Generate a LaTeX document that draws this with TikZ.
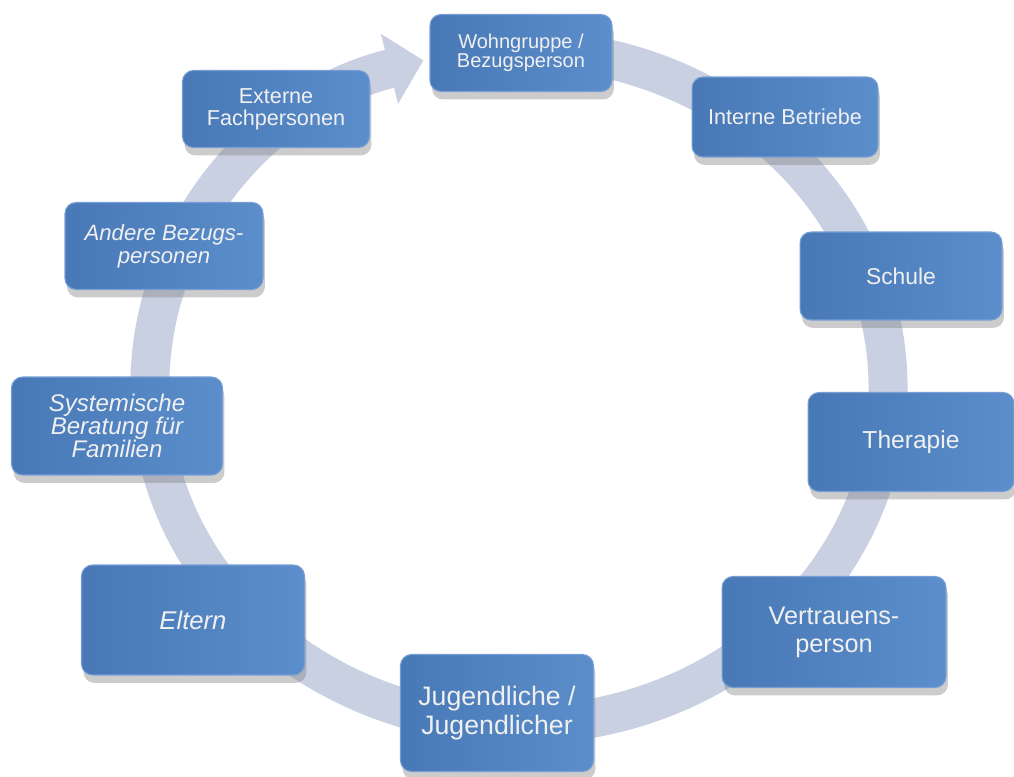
\documentclass[tikz,border=0pt]{standalone}
\usepackage{fontspec}
\setmainfont{Liberation Sans}
\usetikzlibrary{arrows.meta,shadows}
\definecolor{cyclecol}{RGB}{200,208,226}
\definecolor{boxl}{RGB}{72,120,182}
\definecolor{boxr}{RGB}{92,142,204}
\definecolor{boxedge}{RGB}{118,158,212}

\begin{document}
\begin{tikzpicture}[x=0.02cm,y=-0.02cm,
  stage/.style={rounded corners=0.22cm, left color=boxl, right color=boxr,
    draw=boxedge, line width=0.6pt, text=white!94!black, align=center, inner sep=2pt,
    drop shadow={shadow xshift=0.04cm, shadow yshift=-0.16cm, opacity=0.4}}]
\tikzstyle{every node}=[font=\small]
\useasboundingbox (0,0) rectangle (1014,777);
% the cycle arrow behind the boxes
\draw[cyclecol, line width=0.78cm, -{Triangle[width=1.4cm,length=0.7cm]}]
  (454.9,54.1) arc[start angle=-100, end angle=255, x radius=369, y radius=338];

    \node[stage, minimum width=3.64cm, minimum height=1.54cm,
      font=\fontsize{11.4}{11}\selectfont] (wohn) at (521,53) {Wohngruppe /\\Bezugsperson};
    \node[stage, minimum width=3.72cm, minimum height=1.6cm,
      font=\fontsize{12.3}{13}\selectfont] (intern) at (785,117) {Interne Betriebe};
    \node[stage, minimum width=4.04cm, minimum height=1.76cm,
      font=\fontsize{13}{14}\selectfont] (schule) at (901,276) {Schule};
    \node[stage, minimum width=4.12cm, minimum height=1.98cm,
      font=\fontsize{14}{15}\selectfont] (therapie) at (911,442) {Therapie};
    \node[stage, minimum width=4.48cm, minimum height=2.22cm,
      font=\fontsize{14.4}{16}\selectfont] (vertrauen) at (834,632) {Vertrauens-\\person};
    \node[stage, minimum width=3.86cm, minimum height=2.34cm,
      font=\fontsize{15.2}{16.5}\selectfont] (jugend) at (497,713) {Jugendliche /\\Jugendlicher};
    \node[stage, minimum width=4.46cm, minimum height=2.2cm,
      font=\fontsize{14.6}{16}\itshape] (eltern) at (193,620) {Eltern};
    \node[stage, minimum width=4.22cm, minimum height=1.96cm,
      font=\fontsize{13.7}{13.2}\itshape] (system) at (117,426) {Systemische\\Beratung für\\Familien};
    \node[stage, minimum width=3.96cm, minimum height=1.74cm,
      font=\fontsize{12.6}{13}\itshape] (andere) at (164,246) {Andere Bezugs-\\personen};
    \node[stage, minimum width=3.74cm, minimum height=1.54cm,
      font=\fontsize{12.3}{12.5}\selectfont] (extern) at (276,109) {Externe\\Fachpersonen};
\end{tikzpicture}
\end{document}
